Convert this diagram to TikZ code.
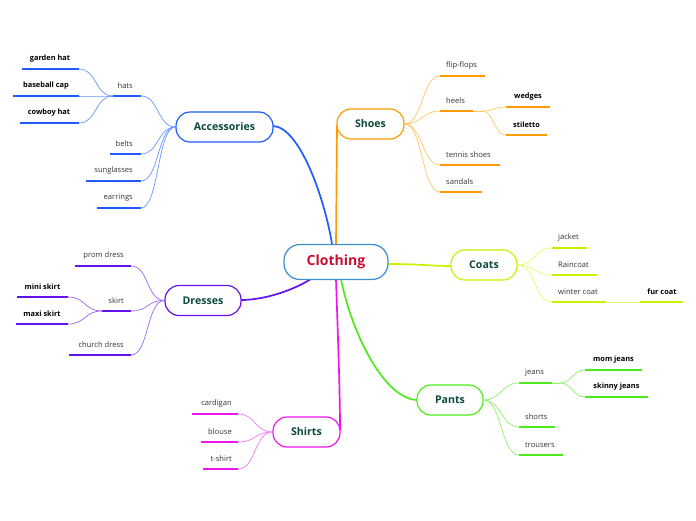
\documentclass[tikz,border=0pt]{standalone}
\usepackage{fontspec}
\setmainfont{Open Sans}
\definecolor{cacc}{HTML}{1F5CFF}
\definecolor{caccl}{HTML}{6A95FF}
\definecolor{cshoe}{HTML}{FF9B00}
\definecolor{cshoel}{HTML}{FFC466}
\definecolor{ccoat}{HTML}{CCF000}
\definecolor{ccoatl}{HTML}{E2FA70}
\definecolor{cpant}{HTML}{4EEB1C}
\definecolor{cpantl}{HTML}{8EF26A}
\definecolor{cshirt}{HTML}{EE16EE}
\definecolor{cshirtl}{HTML}{F47AF4}
\definecolor{cdress}{HTML}{6412F0}
\definecolor{cdressl}{HTML}{9A66F4}
\definecolor{ccenter}{HTML}{3A8ED0}
\definecolor{ctitle}{HTML}{C8102E}
\definecolor{cmain}{HTML}{0B4A3A}
\definecolor{cleaf}{HTML}{333333}
\tikzset{
  mainnode/.style={draw, line width=1.2pt, fill=white, rounded corners=14pt,
    minimum height=30pt, inner sep=0pt, text=cmain,
    font=\fontsize{10.6}{12}\selectfont\bfseries},
  centernode/.style={mainnode, draw=ccenter, rounded corners=16pt, minimum height=35pt,
    text=ctitle, font=\fontsize{14}{16}\selectfont\bfseries},
  lt/.style={font=\fontsize{7.6}{9}\selectfont, text=cleaf, inner sep=0pt},
  ltl/.style={lt, anchor=east},
  ltr/.style={lt, anchor=west},
  bt/.style={font=\fontsize{7.4}{9}\selectfont\bfseries, text=black, inner sep=0pt},
  ul/.style={line width=2.2pt},
  con/.style={line width=0.7pt},
  maincon/.style={line width=1.7pt},
}
% name, x1, x2, y, text x, colour, text style, text
\newcommand\mmleaf[8]{%
  \coordinate (#1-l) at (#2,#4);
  \coordinate (#1-r) at (#3,#4);
  \draw[ul,#6] (#1-l) -- (#1-r);
  \node[#7] (#1) at (#5,#4-10) {#8};
}
\begin{document}
\begin{tikzpicture}[x=1pt,y=-1pt]
\useasboundingbox (0,0) rectangle (696,520);

% ---------- main nodes (coordinates for connectors) ----------
\coordinate (ctop1) at (332,244);
\coordinate (ctop2) at (336,244);
\coordinate (cbot1) at (341,279);
\coordinate (cbot2) at (336,279);
\coordinate (cbot3) at (311,279);
\coordinate (cright) at (388,264);

% ---------- main connectors ----------
\draw[maincon,cacc] (ctop1) .. controls (325,200) and (300,127) .. (273,126);
\draw[maincon,cshoe] (ctop2) -- (337,126);
\draw[maincon,ccoat] (cright) .. controls (420,264) and (430,266) .. (451,266);
\draw[maincon,cpant] (cbot1) .. controls (352,335) and (385,399) .. (417,400);
\draw[maincon,cshirt] (cbot2) .. controls (338,340) and (340,390) .. (340,430);
\draw[maincon,cdress] (cbot3) .. controls (290,292) and (262,300) .. (241,300);

% ---------- nodes ----------
\node[centernode, minimum width=104pt] (clothing) at (336,262) {Clothing};
\node[mainnode, draw=cacc, minimum width=97pt] (acc) at (224.5,127) {Accessories};
\node[mainnode, draw=cshoe, minimum width=67pt] (shoes) at (370.5,124) {Shoes};
\node[mainnode, draw=ccoat, minimum width=66pt] (coats) at (484,265) {Coats};
\node[mainnode, draw=cpant, minimum width=66pt] (pants) at (450,400) {Pants};
\node[mainnode, draw=cshirt, minimum width=67pt] (shirts) at (306.5,432) {Shirts};
\node[mainnode, draw=cdress, minimum width=76pt] (dresses) at (203,300.5) {Dresses};

% ---------- Accessories ----------
\mmleaf{hats}{113}{141}{96}{133}{cacc}{ltl}{hats}
\mmleaf{belts}{110}{141}{154}{133}{cacc}{ltl}{belts}
\mmleaf{sung}{86}{141}{181}{133}{cacc}{ltl}{sunglasses}
\mmleaf{earr}{97}{141}{208}{133}{cacc}{ltl}{earrings}
\mmleaf{garden}{22}{79}{69}{50}{cacc}{bt}{garden hat}
\mmleaf{base}{13}{79}{96}{46}{cacc}{bt}{baseball cap}
\mmleaf{cowboy}{20}{79}{123}{49}{cacc}{bt}{cowboy hat}
\foreach \c in {hats,belts,sung,earr}
  \draw[con,caccl] (acc.west) .. controls +(-18,0) and +(18,0) .. (\c-r);
\foreach \c in {garden,base,cowboy}
  \draw[con,caccl] (hats-l) .. controls +(-18,0) and +(18,0) .. (\c-r);

% ---------- Shoes ----------
\mmleaf{flip}{440}{485}{76}{446}{cshoe}{ltr}{flip-flops}
\mmleaf{heels}{440}{473}{111}{446}{cshoe}{ltr}{heels}
\mmleaf{tennis}{440}{500}{165}{446}{cshoe}{ltr}{tennis shoes}
\mmleaf{sandals}{440}{482}{192}{446}{cshoe}{ltr}{sandals}
\mmleaf{wedges}{506}{550}{107}{528}{cshoe}{bt}{wedges}
\mmleaf{stiletto}{506}{547}{135}{526.5}{cshoe}{bt}{stiletto}
\foreach \c in {flip,heels,tennis,sandals}
  \draw[con,cshoel] (shoes.east) .. controls +(18,0) and +(-18,0) .. (\c-l);
\draw[con,cshoel] (heels-r) -- +(9,0) coordinate (heelsx);
\foreach \c in {wedges,stiletto}
  \draw[con,cshoel] (heelsx) .. controls +(12,0) and +(-12,0) .. (\c-l);

% ---------- Coats ----------
\mmleaf{jacket}{552}{587}{248}{558}{ccoat}{ltr}{jacket}
\mmleaf{rain}{552}{597}{275}{558}{ccoat}{ltr}{Raincoat}
\mmleaf{winter}{552}{606}{302}{558}{ccoat}{ltr}{winter coat}
\mmleaf{fur}{640}{683}{302}{662}{ccoat}{bt}{fur coat}
\foreach \c in {jacket,rain,winter}
  \draw[con,ccoatl] (coats.east) .. controls +(18,0) and +(-18,0) .. (\c-l);
\draw[con,ccoatl] (winter-r) -- (fur-l);

% ---------- Pants ----------
\mmleaf{jeans}{519}{552}{383}{525}{cpant}{ltr}{jeans}
\mmleaf{shorts}{519}{555}{427}{525}{cpant}{ltr}{shorts}
\mmleaf{trousers}{519}{563}{455}{525}{cpant}{ltr}{trousers}
\mmleaf{mom}{585}{642}{370}{613.5}{cpant}{bt}{mom jeans}
\mmleaf{skinny}{585}{648}{397}{616.5}{cpant}{bt}{skinny jeans}
\foreach \c in {jeans,shorts,trousers}
  \draw[con,cpantl] (pants.east) .. controls +(18,0) and +(-18,0) .. (\c-l);
\draw[con,cpantl] (jeans-r) -- +(8,0) coordinate (jeansx);
\foreach \c in {mom,skinny}
  \draw[con,cpantl] (jeansx) .. controls +(12,0) and +(-12,0) .. (\c-l);

% ---------- Shirts ----------
\mmleaf{cardigan}{192}{238}{414}{232}{cshirt}{ltl}{cardigan}
\mmleaf{blouse}{201}{238}{442}{232}{cshirt}{ltl}{blouse}
\mmleaf{tshirt}{203}{238}{469}{232}{cshirt}{ltl}{t-shirt}
\foreach \c in {cardigan,blouse,tshirt}
  \draw[con,cshirtl] (shirts.west) .. controls +(-18,0) and +(18,0) .. (\c-r);

% ---------- Dresses ----------
\mmleaf{prom}{75}{131}{266}{124}{cdress}{ltl}{prom dress}
\mmleaf{skirt}{102}{131}{311}{124}{cdress}{ltl}{skirt}
\mmleaf{church}{69}{131}{355}{124}{cdress}{ltl}{church dress}
\mmleaf{mini}{17}{68}{297}{42.5}{cdress}{bt}{mini skirt}
\mmleaf{maxi}{16}{68}{324}{42}{cdress}{bt}{maxi skirt}
\foreach \c in {prom,skirt,church}
  \draw[con,cdressl] (dresses.west) .. controls +(-18,0) and +(18,0) .. (\c-r);
\foreach \c in {mini,maxi}
  \draw[con,cdressl] (skirt-l) .. controls +(-18,0) and +(18,0) .. (\c-r);
\end{tikzpicture}
\end{document}
